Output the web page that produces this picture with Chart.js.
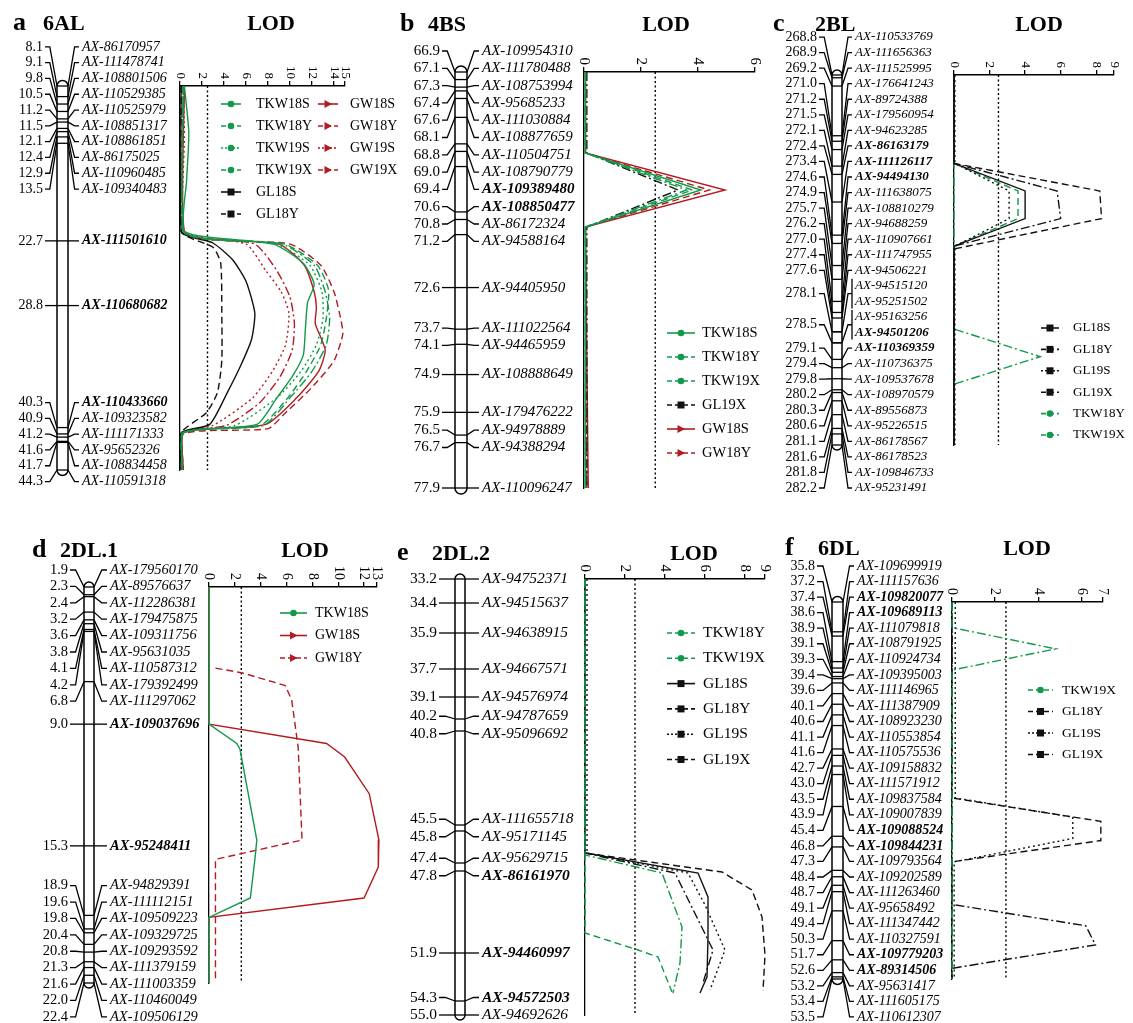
<!DOCTYPE html>
<html>
<head>
<meta charset="utf-8">
<script src="https://cdn.jsdelivr.net/npm/chart.js@4.4.1/dist/chart.umd.min.js"></script>
<style>
  html, body { margin: 0; padding: 0; background: #fff; }
  #fig { position: relative; width: 1133px; height: 1023px; }
  #fig canvas { position: absolute; left: 0; top: 0; }
</style>
</head>
<body>
<div id="fig"></div>
<script>
// LOD threshold drawn as the dotted line in every panel
const threshold = 2.5;

// ---- a: 6AL ----
const cmA = [8.1, 9.1, 9.8, 10.5, 11.2, 11.5, 12.1, 12.4, 12.9, 13.5, 22.7, 28.8, 40.3, 40.9, 41.2, 41.6, 41.7, 44.3];
const markersA = ['AX-86170957', 'AX-111478741', 'AX-108801506', 'AX-110529385', 'AX-110525979', 'AX-108851317',
  'AX-108861851', 'AX-86175025', 'AX-110960485', 'AX-109340483', 'AX-111501610', 'AX-110680682', 'AX-110433660',
  'AX-109323582', 'AX-111171333', 'AX-95652326', 'AX-108834458', 'AX-110591318'];
const boldA = ['AX-111501610', 'AX-110680682', 'AX-110433660'];
const ticksA = [0, 2, 4, 6, 8, 10, 12, 14, 15];
// [cM, LOD]
const a_TKW18S = [[8.1,0.4],[12.5,0.8],[17,0.6],[21.8,0.4],[23.0,8.5],[24.8,11.2],[26.8,12.2],[28.5,11.6],[31,11.4],[33.5,11.2],[35.5,10.2],[37.5,8.8],[40.0,7.0],[40.8,0.3],[44.3,0.2]];
const a_TKW18Y = [[8.1,0.3],[21.8,0.3],[23.0,9.5],[25,12.5],[27.3,13.5],[30,13.3],[32.5,12.8],[35,11.5],[37.5,9.8],[40.1,7.3],[40.8,0.2],[44.3,0.2]];
const a_TKW19S = [[8.1,0.3],[21.8,0.3],[23.0,8.8],[25,11.8],[27.5,12.9],[30,13.0],[32.5,12.4],[35,11.0],[37.5,8.8],[40.1,5.0],[40.8,0.2],[44.3,0.2]];
const a_TKW19X = [[8.1,0.3],[21.8,0.3],[23.0,9.3],[25,12.2],[27.5,13.2],[30,13.6],[32.5,13.3],[35,12.0],[37.5,10.0],[40.1,7.6],[40.8,0.2],[44.3,0.2]];
const a_GL18S = [[8.1,0.1],[21.8,0.1],[22.9,3.0],[24.5,4.8],[26.5,6.0],[29.5,6.8],[32,6.5],[34.5,5.5],[37,4.3],[40.0,2.7],[40.8,0.1],[44.3,0.1]];
const a_GL18Y = [[8.1,0.1],[21.8,0.1],[23.3,3.0],[24.8,3.7],[29.5,3.8],[34,3.8],[37,3.4],[38.9,2.4],[40.8,0.1],[44.3,0.1]];
const a_GW18S = [[8.1,0.4],[21.8,0.4],[23.0,9.0],[25,11.3],[27.5,12.2],[29,12.4],[30.5,12.3],[33,13.2],[35,12.6],[37.5,10.6],[40.0,7.8],[40.8,0.3],[44.3,0.3]];
const a_GW18Y = [[8.1,0.3],[21.8,0.3],[23.0,10.0],[25,12.8],[27.5,14.0],[30,14.6],[31.5,14.8],[34,14.0],[36.5,12.0],[39,9.5],[40.4,8.0],[40.9,0.3],[44.3,0.3]];
const a_GW19S = [[8.1,0.3],[13,0.4],[21.8,0.3],[23.0,6.0],[25.5,7.8],[27.5,9.2],[29.5,9.9],[32.5,9.6],[35,8.4],[37.5,6.6],[40.1,3.0],[40.8,0.2],[44.3,0.2]];
const a_GW19X = [[8.1,0.3],[21.8,0.3],[23.0,6.8],[25.5,8.8],[28,10.0],[30.5,10.4],[33,10.2],[35.5,9.1],[38,7.2],[40.1,4.2],[40.8,0.2],[44.3,0.2]];

// ---- b: 4BS ----
const cmB = [66.9, 67.1, 67.3, 67.4, 67.6, 68.1, 68.8, 69.0, 69.4, 70.6, 70.8, 71.2, 72.6, 73.7, 74.1, 74.9, 75.9, 76.5, 76.7, 77.9];
const markersB = ['AX-109954310', 'AX-111780488', 'AX-108753994', 'AX-95685233', 'AX-111030884', 'AX-108877659',
  'AX-110504751', 'AX-108790779', 'AX-109389480', 'AX-108850477', 'AX-86172324', 'AX-94588164', 'AX-94405950',
  'AX-111022564', 'AX-94465959', 'AX-108888649', 'AX-179476222', 'AX-94978889', 'AX-94388294', 'AX-110096247'];
const boldB = ['AX-109389480', 'AX-108850477'];
const ticksB = [0, 2, 4, 6];
const b_TKW18S = [[66.9,0.05],[69.04,0.05],[70.02,4.1],[71.0,0.05],[77.9,0.05]];
const b_TKW18Y = [[66.9,0.05],[69.04,0.05],[70.02,3.8],[71.0,0.05],[77.9,0.05]];
const b_TKW19X = [[66.9,0.05],[69.04,0.05],[70.02,3.6],[71.0,0.05],[77.9,0.05]];
const b_GL19X = [[66.9,0.1],[69.04,0.1],[70.02,3.3],[71.0,0.1],[77.9,0.1]];
const b_GW18S = [[66.9,0.05],[69.04,0.05],[70.02,4.95],[71.0,0.05],[77.9,0.15]];
const b_GW18Y = [[66.9,0.05],[69.04,0.05],[70.02,4.4],[71.0,0.05],[77.9,0.1]];

// ---- c: 2BL ----
const cmC = [268.8, 268.9, 269.2, 271.0, 271.2, 271.5, 272.1, 272.4, 273.4, 274.6, 274.9, 275.7, 276.2, 277.0, 277.4,
  277.6, 278.1, 278.1, 278.5, 278.5, 279.1, 279.4, 279.8, 280.2, 280.3, 280.6, 281.1, 281.6, 281.8, 282.2];
const markersC = ['AX-110533769', 'AX-111656363', 'AX-111525995', 'AX-176641243', 'AX-89724388', 'AX-179560954',
  'AX-94623285', 'AX-86163179', 'AX-111126117', 'AX-94494130', 'AX-111638075', 'AX-108810279', 'AX-94688259',
  'AX-110907661', 'AX-111747955', 'AX-94506221', 'AX-94515120', 'AX-95251502', 'AX-95163256', 'AX-94501206',
  'AX-110369359', 'AX-110736375', 'AX-109537678', 'AX-108970579', 'AX-89556873', 'AX-95226515', 'AX-86178567',
  'AX-86178523', 'AX-109846733', 'AX-95231491'];
const boldC = ['AX-86163179', 'AX-111126117', 'AX-94494130', 'AX-94501206', 'AX-110369359'];
const ticksC = [0, 2, 4, 6, 8, 9];
const c_GL18S = [[268.8,0],[272.0,0],[273.0,4.0],[274.0,4.0],[275.0,0],[282.2,0]];
const c_GL18Y = [[268.8,0],[272.0,0],[273.0,8.2],[274.0,8.3],[275.1,0],[282.2,0]];
const c_GL19S = [[268.8,0.05],[272.0,0.05],[273.0,3.1],[274.0,3.1],[275.0,0.05],[282.2,0.05]];
const c_GL19X = [[268.8,0],[272.0,0],[273.0,5.8],[274.0,6.0],[275.0,0],[282.2,0]];
const c_TKW18Y = [[268.8,0],[272.0,0],[273.0,3.6],[274.0,3.6],[275.0,0],[282.2,0]];
const c_TKW19X = [[268.8,0],[278.0,0],[279.0,4.85],[280.0,0],[282.2,0]];

// ---- d: 2DL.1 ----
const cmD = [1.9, 2.3, 2.4, 3.2, 3.6, 3.8, 4.1, 4.2, 6.8, 9.0, 15.3, 18.9, 19.6, 19.8, 20.4, 20.8, 21.3, 21.6, 22.0, 22.4];
const markersD = ['AX-179560170', 'AX-89576637', 'AX-112286381', 'AX-179475875', 'AX-109311756', 'AX-95631035',
  'AX-110587312', 'AX-179392499', 'AX-111297062', 'AX-109037696', 'AX-95248411', 'AX-94829391', 'AX-111112151',
  'AX-109509223', 'AX-109329725', 'AX-109293592', 'AX-111379159', 'AX-111003359', 'AX-110460049', 'AX-109506129'];
const boldD = ['AX-109037696', 'AX-95248411'];
const ticksD = [0, 2, 4, 6, 8, 10, 12, 13];
const d_TKW18S = [[1.9,0],[9.0,0],[10.0,2.15],[10.3,2.4],[15.0,3.7],[16.0,3.55],[18.0,3.2],[19.0,0],[22.4,0]];
const d_GW18S = [[1.9,0],[9.0,0],[10.0,9.1],[10.7,10.5],[12.6,12.4],[15.0,13.15],[16.4,13.1],[18.0,12.0],[19.0,0],[22.4,0]];
const d_GW18Y = [[6.1,0.5],[6.35,2.6],[7.0,5.9],[7.75,6.4],[10.2,6.9],[15.0,7.2],[16.0,0.5],[22.2,0.5]];

// ---- e: 2DL.2 ----
const cmE = [33.2, 34.4, 35.9, 37.7, 39.1, 40.2, 40.8, 45.5, 45.8, 47.4, 47.8, 51.9, 54.3, 55.0];
const markersE = ['AX-94752371', 'AX-94515637', 'AX-94638915', 'AX-94667571', 'AX-94576974', 'AX-94787659',
  'AX-95096692', 'AX-111655718', 'AX-95171145', 'AX-95629715', 'AX-86161970', 'AX-94460997', 'AX-94572503', 'AX-94692626'];
const boldE = ['AX-86161970', 'AX-94460997', 'AX-94572503'];
const ticksE = [0, 2, 4, 6, 8, 9];
const e_TKW18Y = [[33.2,0],[50.9,0],[51.75,2.65],[52.1,3.65],[53.85,4.35]];
const e_TKW19X = [[33.2,0],[47.0,0],[47.9,3.85],[50.6,4.85],[52.4,4.75],[53.9,4.4]];
const e_GL18S = [[33.2,0],[46.9,0],[47.9,5.65],[49.1,6.15],[51.1,6.15],[53.1,6.1],[53.9,5.75]];
const e_GL18Y = [[33.2,0],[46.9,0],[47.85,6.85],[48.75,8.35],[50.1,8.85],[52.0,9.0],[53.8,8.9]];
const e_GL19S = [[33.2,0.1],[46.9,0.1],[47.9,5.15],[49.5,6.0],[51.75,7.0],[53.75,6.25]];
const e_GL19X = [[33.2,0],[46.9,0],[47.9,4.5],[51.75,6.4],[53.4,5.9]];

// ---- f: 6DL ----
const cmF = [35.8, 37.2, 37.4, 38.6, 38.9, 39.1, 39.3, 39.4, 39.6, 40.1, 40.6, 41.1, 41.6, 42.7, 43.0, 43.5, 43.9,
  45.4, 46.8, 47.3, 48.4, 48.7, 49.1, 49.4, 50.3, 51.7, 52.6, 53.2, 53.4, 53.5];
const markersF = ['AX-109699919', 'AX-111157636', 'AX-109820077', 'AX-109689113', 'AX-111079818', 'AX-108791925',
  'AX-110924734', 'AX-109395003', 'AX-111146965', 'AX-111387909', 'AX-108923230', 'AX-110553854', 'AX-110575536',
  'AX-109158832', 'AX-111571912', 'AX-109837584', 'AX-109007839', 'AX-109088524', 'AX-109844231', 'AX-109793564',
  'AX-109202589', 'AX-111263460', 'AX-95658492', 'AX-111347442', 'AX-110327591', 'AX-109779203', 'AX-89314506',
  'AX-95631417', 'AX-111605175', 'AX-110612307'];
const boldF = ['AX-109820077', 'AX-109689113', 'AX-109088524', 'AX-109844231', 'AX-109779203', 'AX-89314506'];
const ticksF = [0, 2, 4, 6, 7];
const f_TKW19X = [[35.8,0],[37.0,0],[38.0,4.8],[39.0,0],[53.5,0]];
const f_GL18Y = [[35.8,0],[45.0,0],[46.1,6.9],[47.0,6.9],[48.0,0],[53.5,0]];
const f_GL19S = [[35.8,0.15],[45.0,0.15],[45.9,5.6],[46.9,5.6],[48.0,0.1],[53.5,0.1]];
const f_GL19X = [[35.8,0],[50.0,0],[51.0,6.2],[51.9,6.65],[53.0,0],[53.5,0]];

// ---- styles ----
const W = 1133, H = 1023, AXH = 8;
const SERIF = "'Liberation Serif', 'Times New Roman', serif";
const GREEN = '#12994a', RED = '#b31b22', BLACK = '#111111';

function colorOf(name) {
  if (name.startsWith('TKW')) return GREEN;
  if (name.startsWith('GW')) return RED;
  return BLACK;
}
function dashOf(name) {
  if (name.endsWith('18Y')) return [7, 4];
  if (name.endsWith('19S')) return [2, 3];
  if (name.endsWith('19X')) return [9, 3, 2, 3];
  return [];
}

const panels = [
  { letter: 'a', chrom: '6AL', cm: cmA, names: markersA, bold: boldA, ticks: ticksA, xMax: 15, tension: 0.2,
    series: { TKW18S: a_TKW18S, TKW18Y: a_TKW18Y, TKW19S: a_TKW19S, TKW19X: a_TKW19X, GL18S: a_GL18S, GL18Y: a_GL18Y,
      GW18S: a_GW18S, GW18Y: a_GW18Y, GW19S: a_GW19S, GW19X: a_GW19X },
    area: { left: 180, right: 345, top: 86, bottom: 470 },
    map: { cmRight: 43, barL: 57, barR: 68, textX: 82, gap: 15.8, font: 14, cmFont: 14, minY: 43, maxY: 488 },
    title: { x: 13, chromX: 43, lodX: 271, y: 30 }, tickFont: 13,
    legend: { y0: 104, dy: 22, lineW: 20, font: 14, cols: [
      { lineX: 221, textX: 256, names: ['TKW18S', 'TKW18Y', 'TKW19S', 'TKW19X', 'GL18S', 'GL18Y'] },
      { lineX: 318, textX: 350, names: ['GW18S', 'GW18Y', 'GW19S', 'GW19X'] }] } },
  { letter: 'b', chrom: '4BS', cm: cmB, names: markersB, bold: boldB, ticks: ticksB, xMax: 6, tension: 0,
    series: { TKW18S: b_TKW18S, TKW18Y: b_TKW18Y, TKW19X: b_TKW19X, GL19X: b_GL19X, GW18S: b_GW18S, GW18Y: b_GW18Y },
    area: { left: 584, right: 755, top: 72, bottom: 488 },
    map: { cmRight: 440, barL: 455, barR: 467, textX: 482, gap: 17.3, font: 15, cmFont: 15, minY: 51, maxY: 488 },
    title: { x: 400, chromX: 428, lodX: 666, y: 31 }, tickFont: 15,
    legend: { y0: 333, dy: 24, lineW: 28, font: 14.5, cols: [
      { lineX: 667, textX: 702, names: ['TKW18S', 'TKW18Y', 'TKW19X', 'GL19X', 'GW18S', 'GW18Y'] }] } },
  { letter: 'c', chrom: '2BL', cm: cmC, names: markersC, bold: boldC, ticks: ticksC, xMax: 9, tension: 0,
    series: { GL18S: c_GL18S, GL18Y: c_GL18Y, GL19S: c_GL19S, GL19X: c_GL19X, TKW18Y: c_TKW18Y, TKW19X: c_TKW19X },
    area: { left: 954, right: 1114, top: 75, bottom: 445 },
    map: { cmRight: 817, barL: 832, barR: 842, textX: 855, gap: 15.55, font: 13, cmFont: 14, minY: 37, maxY: 488 },
    title: { x: 773, chromX: 815, lodX: 1039, y: 31 }, tickFont: 13,
    legend: { y0: 328, dy: 21.4, lineW: 18, font: 13, cols: [
      { lineX: 1041, textX: 1073, names: ['GL18S', 'GL18Y', 'GL19S', 'GL19X', 'TKW18Y', 'TKW19X'] }] } },
  { letter: 'd', chrom: '2DL.1', cm: cmD, names: markersD, bold: boldD, ticks: ticksD, xMax: 13, tension: 0,
    series: { TKW18S: d_TKW18S, GW18S: d_GW18S, GW18Y: d_GW18Y },
    area: { left: 209, right: 377, top: 587, bottom: 983 },
    map: { cmRight: 68, barL: 84, barR: 94, textX: 110, gap: 16.4, font: 14.5, cmFont: 14.5, minY: 570, maxY: 1017 },
    title: { x: 32, chromX: 60, lodX: 305, y: 557 }, tickFont: 14,
    legend: { y0: 613, dy: 22.5, lineW: 27, font: 14, cols: [
      { lineX: 280, textX: 315, names: ['TKW18S', 'GW18S', 'GW18Y'] }] } },
  { letter: 'e', chrom: '2DL.2', cm: cmE, names: markersE, bold: boldE, ticks: ticksE, xMax: 9, tension: 0,
    series: { TKW18Y: e_TKW18Y, TKW19X: e_TKW19X, GL18S: e_GL18S, GL18Y: e_GL18Y, GL19S: e_GL19S, GL19X: e_GL19X },
    area: { left: 585, right: 765, top: 579, bottom: 1015 },
    map: { cmRight: 437, barL: 455, barR: 465, textX: 482, gap: 17.5, font: 15.5, cmFont: 15.5, minY: 575, maxY: 1015 },
    title: { x: 397, chromX: 432, lodX: 694, y: 560 }, tickFont: 15,
    legend: { y0: 633, dy: 25.3, lineW: 28, font: 15.5, cols: [
      { lineX: 667, textX: 703, names: ['TKW18Y', 'TKW19X', 'GL18S', 'GL18Y', 'GL19S', 'GL19X'] }] } },
  { letter: 'f', chrom: '6DL', cm: cmF, names: markersF, bold: boldF, ticks: ticksF, xMax: 7, tension: 0,
    series: { TKW19X: f_TKW19X, GL18Y: f_GL18Y, GL19S: f_GL19S, GL19X: f_GL19X },
    area: { left: 952, right: 1103, top: 602, bottom: 979 },
    map: { cmRight: 815, barL: 832, barR: 843, textX: 857, gap: 15.55, font: 14, cmFont: 14, minY: 566, maxY: 1017 },
    title: { x: 785, chromX: 818, lodX: 1027, y: 555 }, tickFont: 14,
    legend: { y0: 690, dy: 21.5, lineW: 25, font: 13.5, cols: [
      { lineX: 1028, textX: 1062, names: ['TKW19X', 'GL18Y', 'GL19S', 'GL19X'] }] } }
];

// push overlapping labels apart (MapChart style), keeping clusters centred on their markers
function spread(ys, gap, minY, maxY) {
  const cl = ys.map(y => ({ n: 1, sum: y, top: y }));
  const place = c => {
    c.top = c.sum / c.n - (c.n - 1) * gap / 2;
    c.top = Math.max(minY, Math.min(c.top, maxY - (c.n - 1) * gap));
  };
  cl.forEach(place);
  let changed = true;
  while (changed) {
    changed = false;
    for (let i = 0; i < cl.length - 1; i++) {
      const a = cl[i], b = cl[i + 1];
      if (a.top + a.n * gap > b.top + 0.01) {
        a.n += b.n; a.sum += b.sum; place(a);
        cl.splice(i + 1, 1); changed = true; break;
      }
    }
  }
  const out = [];
  cl.forEach(c => { for (let k = 0; k < c.n; k++) out.push(c.top + k * gap); });
  return out;
}

function drawMap(chart, p) {
  const ctx = chart.ctx, ys = chart.scales.y, m = p.map;
  const barY = p.cm.map(c => ys.getPixelForValue(c));
  const labY = spread(barY, m.gap, m.minY, m.maxY);
  ctx.strokeStyle = '#000';
  ctx.fillStyle = '#000';
  ctx.setLineDash([]);

  // chromosome
  const r = (m.barR - m.barL) / 2, cx = (m.barL + m.barR) / 2;
  const top = barY[0], bot = barY[barY.length - 1];
  ctx.lineWidth = 1.5;
  ctx.beginPath();
  ctx.moveTo(m.barL, top);
  ctx.lineTo(m.barL, bot);
  ctx.arc(cx, bot, r, Math.PI, 0, true);
  ctx.lineTo(m.barR, top);
  ctx.arc(cx, top, r, 0, Math.PI, true);
  ctx.closePath();
  ctx.stroke();

  ctx.lineWidth = 1.3;
  barY.forEach(y => {
    ctx.beginPath(); ctx.moveTo(m.barL, y); ctx.lineTo(m.barR, y); ctx.stroke();
  });

  // markers sharing a position get one cM label and a bracket
  const groups = [];
  p.cm.forEach((c, i) => {
    const g = groups[groups.length - 1];
    if (g && g.cm === c) g.idx.push(i); else groups.push({ cm: c, idx: [i] });
  });
  ctx.textBaseline = 'middle';
  groups.forEach(g => {
    const yb = barY[g.idx[0]];
    const yl = g.idx.reduce((s, i) => s + labY[i], 0) / g.idx.length;
    const x0 = m.cmRight + 2, x1 = x0 + (m.barL - x0) * 0.4;
    ctx.beginPath(); ctx.moveTo(x0, yl); ctx.lineTo(x1, yl); ctx.lineTo(m.barL, yb); ctx.stroke();
    const x3 = m.textX - 3, x2 = m.barR + (x3 - m.barR) * 0.6;
    ctx.beginPath(); ctx.moveTo(m.barR, yb); ctx.lineTo(x2, yl); ctx.lineTo(x3, yl); ctx.stroke();
    if (g.idx.length > 1) {
      ctx.beginPath();
      ctx.moveTo(x3, labY[g.idx[0]] - 7);
      ctx.lineTo(x3, labY[g.idx[g.idx.length - 1]] + 7);
      ctx.stroke();
    }
    ctx.font = `${m.cmFont}px ${SERIF}`;
    ctx.textAlign = 'right';
    ctx.fillText(g.cm.toFixed(1), m.cmRight, yl);
  });
  ctx.textAlign = 'left';
  p.names.forEach((name, i) => {
    ctx.font = `${p.bold.includes(name) ? 'bold ' : ''}italic ${m.font}px ${SERIF}`;
    ctx.fillText(name, m.textX, labY[i]);
  });
}

function drawTitle(chart, p) {
  const ctx = chart.ctx, t = p.title;
  ctx.fillStyle = '#000';
  ctx.textBaseline = 'alphabetic';
  ctx.textAlign = 'left';
  ctx.font = `bold 26px ${SERIF}`;
  ctx.fillText(p.letter, t.x, t.y);
  ctx.font = `bold 22px ${SERIF}`;
  ctx.fillText(p.chrom, t.chromX, t.y);
  ctx.textAlign = 'center';
  ctx.fillText('LOD', t.lodX, t.y);
}

function drawTickLabels(chart, p) {
  const ctx = chart.ctx, xs = chart.scales.x;
  ctx.fillStyle = '#000';
  ctx.font = `${p.tickFont}px ${SERIF}`;
  xs.ticks.forEach(t => {
    const px = xs.getPixelForValue(t.value);
    ctx.save();
    ctx.translate(px, chart.chartArea.top - 7);
    ctx.rotate(Math.PI / 2);
    ctx.textAlign = 'right';
    ctx.textBaseline = 'middle';
    ctx.fillText(String(t.value), 0, 0);
    ctx.restore();
  });
}

function drawLegend(chart, p) {
  const ctx = chart.ctx, L = p.legend;
  L.cols.forEach(col => col.names.forEach((name, r) => {
    const ds = chart.data.datasets.find(d => d.label === name);
    const y = L.y0 + r * L.dy, mx = col.lineX + L.lineW / 2;
    ctx.strokeStyle = ds.borderColor;
    ctx.fillStyle = ds.borderColor;
    ctx.lineWidth = 1.6;
    ctx.setLineDash(ds.borderDash.length ? [5, 3] : []);
    if (name.endsWith('19S')) ctx.setLineDash([2, 2]);
    ctx.beginPath(); ctx.moveTo(col.lineX, y); ctx.lineTo(col.lineX + L.lineW, y); ctx.stroke();
    ctx.setLineDash([]);
    ctx.beginPath();
    if (name.startsWith('TKW')) ctx.arc(mx, y, 3.3, 0, Math.PI * 2);
    else if (name.startsWith('GL')) ctx.rect(mx - 3.5, y - 3.5, 7, 7);
    else { ctx.moveTo(mx - 3.5, y - 4); ctx.lineTo(mx + 4, y); ctx.lineTo(mx - 3.5, y + 4); ctx.closePath(); }
    ctx.fill();
    ctx.fillStyle = '#000';
    ctx.font = `${L.font}px ${SERIF}`;
    ctx.textAlign = 'left';
    ctx.textBaseline = 'middle';
    ctx.fillText(name, col.textX, y);
  }));
}

function makeChart(p) {
  const canvas = document.createElement('canvas');
  canvas.width = W; canvas.height = H;
  document.getElementById('fig').appendChild(canvas);

  const datasets = Object.keys(p.series).map(name => ({
    label: name,
    data: p.series[name].map(([c, lod]) => ({ x: lod, y: c })),
    showLine: true, fill: false, clip: false,
    borderColor: colorOf(name), borderDash: dashOf(name), borderWidth: 1.4,
    pointRadius: 0, tension: p.tension
  }));
  datasets.push({
    label: 'threshold',
    data: [{ x: threshold, y: p.cm[0] }, { x: threshold, y: p.cm[p.cm.length - 1] }],
    showLine: true, fill: false, borderColor: '#000', borderDash: [2, 2.5], borderWidth: 1.4, pointRadius: 0
  });

  const plugin = {
    id: 'lodmap' + p.letter,
    afterDraw(chart) {
      chart.ctx.save();
      drawTitle(chart, p);
      drawTickLabels(chart, p);
      drawMap(chart, p);
      drawLegend(chart, p);
      chart.ctx.restore();
    }
  };

  new Chart(canvas, {
    type: 'scatter',
    data: { datasets },
    plugins: [plugin],
    options: {
      responsive: false,
      animation: false,
      events: [],
      layout: { padding: { left: p.area.left, right: W - p.area.right, top: p.area.top - AXH, bottom: H - p.area.bottom } },
      plugins: { legend: { display: false }, tooltip: { enabled: false } },
      scales: {
        x: {
          type: 'linear', position: 'top', min: 0, max: p.xMax,
          afterBuildTicks: ax => { ax.ticks = p.ticks.map(v => ({ value: v })); },
          afterFit: ax => { ax.height = AXH; },
          ticks: { display: false },
          grid: { display: true, drawOnChartArea: false, drawTicks: true, tickLength: 5, color: '#000', lineWidth: 1.3 },
          border: { display: true, color: '#000', width: 1.6 }
        },
        y: {
          type: 'linear', reverse: true, min: p.cm[0], max: p.cm[p.cm.length - 1],
          afterFit: ax => { ax.width = 0; },
          ticks: { display: false },
          grid: { display: false },
          border: { display: true, color: '#000', width: 1.3 }
        }
      }
    }
  });
}

panels.forEach(makeChart);
</script>
</body>
</html>
